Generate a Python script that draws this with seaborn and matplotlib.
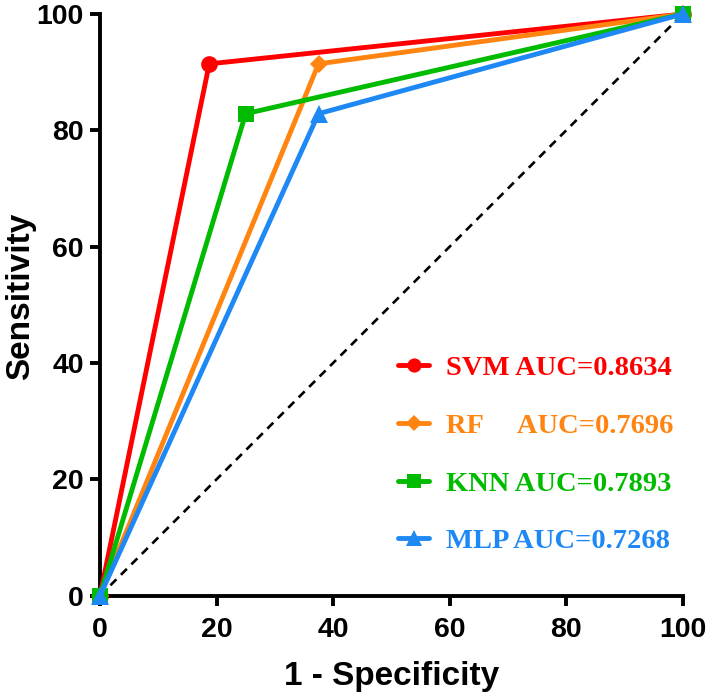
import numpy as np
import matplotlib
matplotlib.use("Agg")
import matplotlib.pyplot as plt
import pandas as pd
import seaborn as sns

sns.set_style("ticks")
plt.rcParams['font.family'] = ['Liberation Sans', 'DejaVu Sans']
plt.rcParams['text.color'] = 'black'
plt.rcParams['axes.labelcolor'] = 'black'
plt.rcParams['xtick.color'] = 'black'
plt.rcParams['ytick.color'] = 'black'
plt.rcParams['axes.edgecolor'] = 'black'

# ROC points (1 - specificity, sensitivity) in percent
models = ["SVM", "RF", "KNN", "MLP"]
auc_vals = ["0.8634", "0.7696", "0.7893", "0.7268"]
fpr = {"SVM": [0, 18.75, 100], "RF": [0, 37.5, 100],
       "KNN": [0, 25.0, 100], "MLP": [0, 37.5, 100]}
tpr = {"SVM": [0, 91.43, 100], "RF": [0, 91.43, 100],
       "KNN": [0, 82.86, 100], "MLP": [0, 82.86, 100]}

colors = {"SVM": "#FF0000", "RF": "#FF8410", "KNN": "#00BB00", "MLP": "#1E88F5"}
markers = {"SVM": "o", "RF": "D", "KNN": "s", "MLP": "^"}
msize = {"SVM": 12, "RF": 9, "KNN": 12, "MLP": 13}
labels = ["SVM AUC=0.8634", "RF     AUC=0.7696", "KNN AUC=0.7893", "MLP AUC=0.7268"]

fig, ax = plt.subplots(figsize=(7.09, 7.0), dpi=100)
fig.subplots_adjust(left=0.141, right=0.963, top=0.98, bottom=0.149)

ax.plot([0, 100], [0, 100], ls=(0, (3.2, 2.4)), color="black", lw=1.9, zorder=1)

for m in models:
    df = pd.DataFrame({"x": fpr[m], "y": tpr[m]})
    sns.lineplot(data=df, x="x", y="y", ax=ax, color=colors[m], lw=3.5,
                 marker=markers[m], markersize=msize[m], markeredgewidth=0,
                 label=m, clip_on=False, zorder=3, sort=False)

ax.set_xlim(0, 100)
ax.set_ylim(0, 100)
ax.set_xticks(range(0, 101, 20))
ax.set_yticks(range(0, 101, 20))
for s in ["top", "right"]:
    ax.spines[s].set_visible(False)
for s in ["left", "bottom"]:
    ax.spines[s].set_linewidth(2.8)
ax.tick_params(width=2.8, length=7.5, labelsize=20.5, pad=4)
ax.tick_params(axis="x", pad=8)
for t in ax.get_xticklabels() + ax.get_yticklabels():
    t.set_fontweight("bold")
ax.set_xlabel("1 - Specificity", fontsize=24, fontweight="bold", va="center")
ax.set_ylabel("Sensitivity", fontsize=24, fontweight="bold", va="center")
ax.xaxis.set_label_coords(0.5, -0.139)
ax.yaxis.set_label_coords(-0.137, 0.515)

handles, _ = ax.get_legend_handles_labels()
leg = ax.legend(handles, labels, loc="upper left",
                bbox_to_anchor=(398 / 709, 1 - 355 / 700),
                bbox_transform=fig.transFigure,
                frameon=False, borderpad=0, borderaxespad=0,
                handlelength=1.1, handletextpad=0.6, markerscale=0.85,
                labelspacing=1.12,
                prop={"family": "Liberation Serif", "weight": "bold", "size": 20.5})
for txt, m in zip(leg.get_texts(), models):
    txt.set_color(colors[m])

fig.savefig("out.png", dpi=100)
